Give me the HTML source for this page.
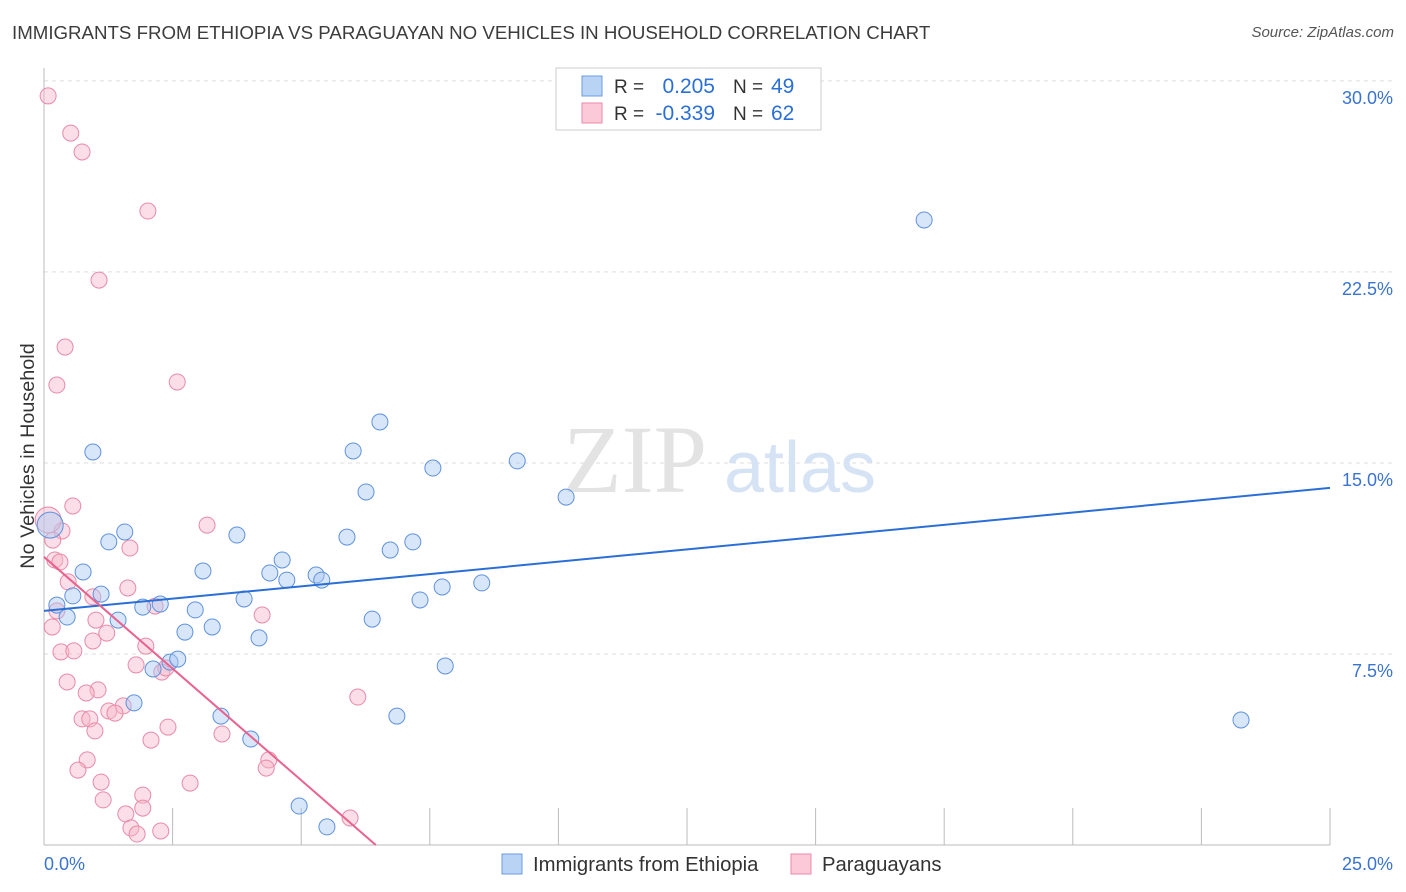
<!DOCTYPE html>
<html><head><meta charset="utf-8"><style>
body{margin:0;background:#fff;font-family:"Liberation Sans",sans-serif;}
#wrap{position:relative;width:1406px;height:892px;overflow:hidden;}
.t{position:absolute;white-space:nowrap;}
</style></head><body>
<div id="wrap">
<div class="t" style="left:12px;top:22px;font-size:18.7px;color:#3c3c3c;">IMMIGRANTS FROM ETHIOPIA VS PARAGUAYAN NO VEHICLES IN HOUSEHOLD CORRELATION CHART</div>
<div class="t" style="right:12px;top:24px;font-size:15px;color:#555;font-style:italic;">Source: ZipAtlas.com</div>
<svg id="svg" width="1406" height="892" style="position:absolute;left:0;top:0"></svg>
</div>
<script>
const tickY=[7.5,15,22.5,30];
const tickYLabels=["7.5%","15.0%","22.5%","30.0%"];
const blueX=[0.95,1.57,1.26,0.76,1.11,0.56,0.25,0.45,1.44,1.92,2.26,2.94,2.74,3.27,3.09,3.75,3.89,4.18,4.63,4.39,4.72,5.29,5.40,5.89,6.01,6.26,6.53,6.73,7.17,6.38,7.31,7.56,7.74,7.80,8.51,9.20,10.15,17.11,23.27,2.12,2.45,2.60,1.75,3.44,4.02,4.96,5.50,6.86,0.12];
const blueY=[15.43,12.29,11.90,10.72,9.85,9.78,9.42,8.95,8.83,9.34,9.46,9.23,8.36,8.56,10.76,12.17,9.66,8.13,11.19,10.68,10.40,10.60,10.40,12.09,15.47,13.86,16.61,11.58,11.90,8.87,9.62,14.80,10.13,7.03,10.29,15.08,13.66,24.54,4.91,6.91,7.18,7.30,5.58,5.06,4.16,1.53,0.71,5.06,12.56];
const pinkX=[0.08,0.52,0.74,2.02,1.07,0.41,2.59,0.25,0.56,0.35,3.17,1.67,0.21,0.31,0.47,1.63,0.95,2.16,4.24,0.16,1.22,1.01,0.95,1.98,0.33,0.58,1.79,2.29,2.37,0.45,1.05,0.82,1.54,6.10,1.26,1.38,0.74,0.89,2.41,0.99,3.46,2.08,0.84,0.66,4.37,4.32,1.11,2.84,1.92,1.15,1.92,1.59,1.69,2.27,1.81,5.95,0.17,0.25,0.08];
const pinkY=[29.41,27.95,27.21,24.89,22.18,19.55,18.18,18.06,13.31,12.33,12.56,11.66,11.19,11.11,10.33,10.09,9.74,9.38,9.03,8.56,8.32,8.83,8.01,7.81,7.58,7.62,7.07,6.79,6.95,6.40,6.09,5.97,5.46,5.81,5.26,5.18,4.95,4.95,4.63,4.48,4.36,4.12,3.34,2.94,3.34,3.02,2.47,2.43,1.96,1.77,1.45,1.22,0.67,0.55,0.43,1.06,11.97,9.19,12.76];
const blueTrend=[9.19,14.02];
const pinkTrend=[11.31,6.45];
const NS="http://www.w3.org/2000/svg";
const svg=document.getElementById('svg');
const X0=44,X1=1330,Y0=845,PY=25.47;
const sx=v=>X0+(X1-X0)*v/25;
const sy=v=>Y0-v*PY;
function mk(tag,attrs){const e=document.createElementNS(NS,tag);for(const k in attrs)e.setAttribute(k,attrs[k]);svg.appendChild(e);return e;}
function txt(x,y,s,fill,size,anchor){const e=mk('text',{x:x,y:y,fill:fill,'font-size':size,'text-anchor':anchor||'start','font-family':'Liberation Sans, sans-serif'});e.textContent=s;return e;}
tickY.forEach((v,i)=>{
 const g=mk('line',{x1:X0,x2:1395,y1:sy(v),y2:sy(v),stroke:'#ddd','stroke-dasharray':'4,4'});
 
 
 const t=txt(1393,sy(v)+23,tickYLabels[i],'#3a73d0',18,'end');
 
 
});
const w1=txt(635,492,'ZIP','#e3e3e3',96,'middle');w1.setAttribute('font-family','Liberation Serif, serif');


const w2=txt(800,492,'atlas','#d5e3f5',72,'middle');


const ax=mk('line',{x1:X0,x2:X0,y1:68,y2:Y0,stroke:'#bbb'});


const bx=mk('line',{x1:X0,x2:X1,y1:Y0,y2:Y0,stroke:'#bbb'});


for(let i=1;i<=10;i++){const tk=mk('line',{x1:sx(i*2.5),x2:sx(i*2.5),y1:808,y2:Y0,stroke:'#bbb'});
 
 }
let t0=txt(44,870,'0.0%','#3a73d0',18,'start');


let t1=txt(1393,870,'25.0%','#3a73d0',18,'end');


const yt=txt(0,0,'No Vehicles in Household','#333',19.8,'middle');yt.setAttribute('transform','translate(34,456) rotate(-90)');


function dots(xs,ys,fill,stroke,name){xs.forEach((x,i)=>{const r=(x<0.2&&ys[i]>12.4&&ys[i]<12.8)?13:8;
 const c=mk('circle',{cx:sx(x),cy:sy(ys[i]),r:r,fill:fill,'fill-opacity':0.45,stroke:stroke,'stroke-width':1});
 
 });}
dots(pinkX,pinkY,'#f7b6ca','#e98aa8','point-paraguayans');
dots(blueX,blueY,'#a9c8f2','#5f92dd','point-ethiopia');
const bl=mk('line',{x1:sx(0),y1:sy(blueTrend[0]),x2:sx(25),y2:sy(blueTrend[1]),stroke:'#2b6fd6','stroke-width':2});


const pl=mk('line',{x1:sx(0),y1:sy(pinkTrend[0]),x2:sx(pinkTrend[1]),y2:sy(0),stroke:'#e8638e','stroke-width':2});


const lb=mk('rect',{x:556,y:68,width:265,height:62,fill:'#fff',stroke:'#ccc'});


[[0,'#b9d3f5','#6a9be0','0.205','49'],[1,'#fbc9d8','#e98aa8','-0.339','62']].forEach(r=>{
 const y=86+r[0]*27;
 const s=mk('rect',{x:582,y:y-10,width:20,height:20,fill:r[1],stroke:r[2]});
 
 
 txt(614,y+7,'R = ','#333',19);
 txt(715,y+7,r[3],'#2b6fd6',21,'end');
 txt(733,y+7,'N = ','#333',19);
 txt(771,y+7,r[4],'#2b6fd6',21);
});
[[502,'#b9d3f5','#6a9be0','Immigrants from Ethiopia'],[791,'#fbc9d8','#e98aa8','Paraguayans']].forEach(r=>{
 const s=mk('rect',{x:r[0],y:854,width:20,height:20,fill:r[1],stroke:r[2]});
 
 
 txt(r[0]+31,871,r[3],'#333',20.3);
});
</script>
</body></html>
